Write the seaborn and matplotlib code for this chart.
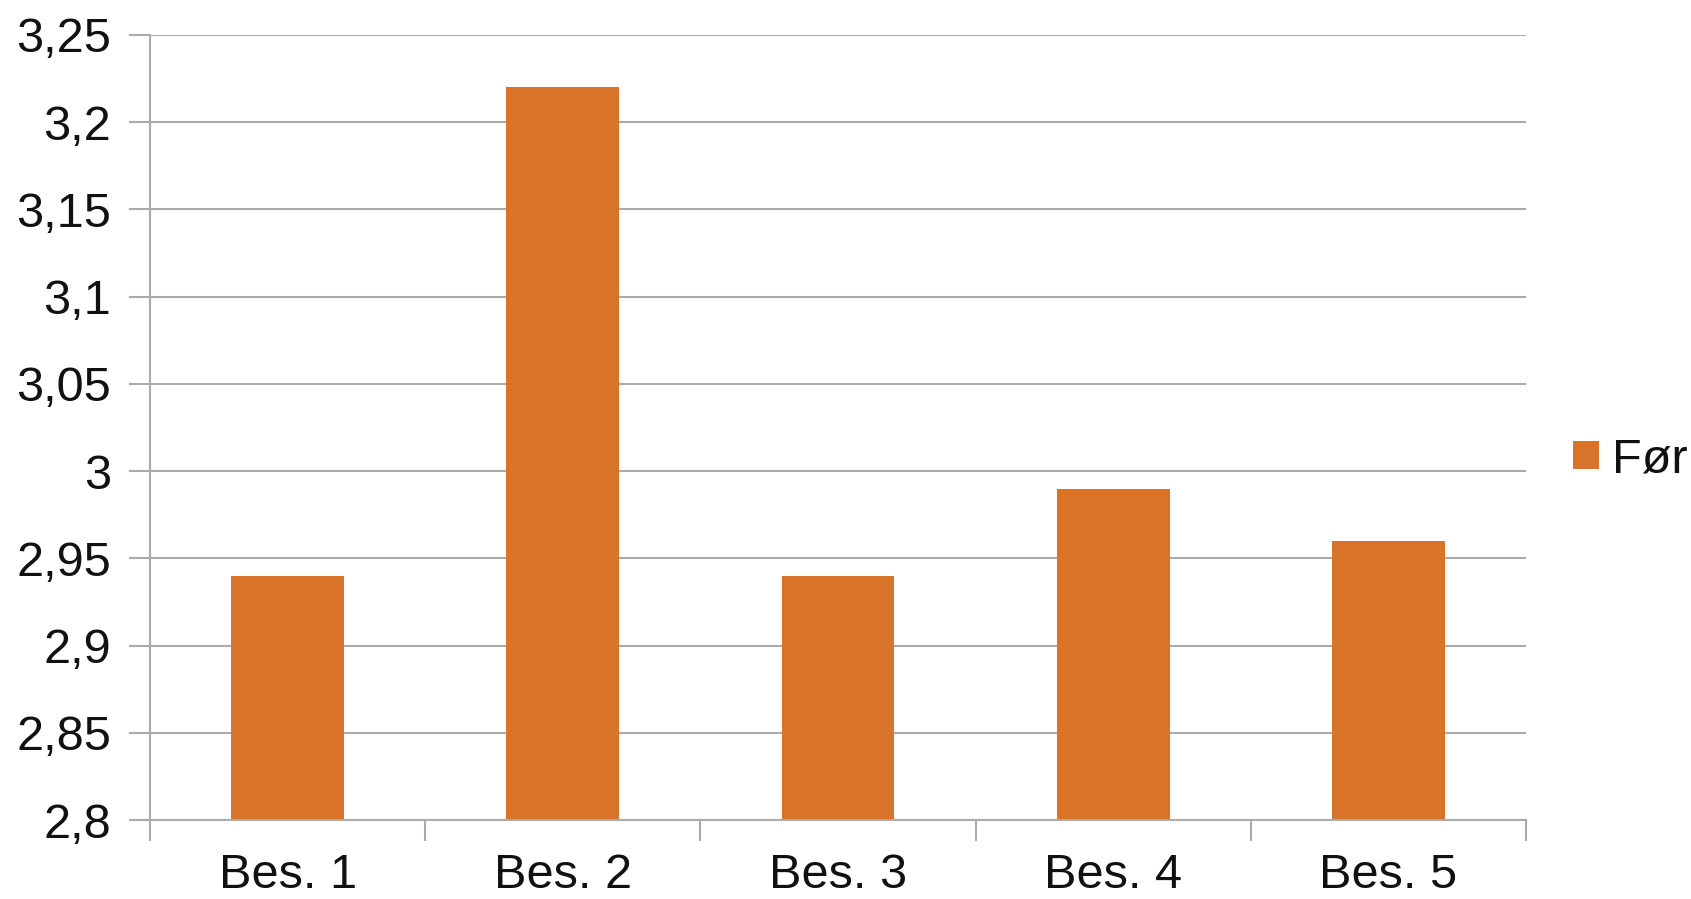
import numpy as np
import pandas as pd
import seaborn as sns
import matplotlib.pyplot as plt
from matplotlib.ticker import FuncFormatter

categories = ['Bes. 1', 'Bes. 2', 'Bes. 3', 'Bes. 4', 'Bes. 5']
values = [2.94, 3.22, 2.94, 2.99, 2.96]
series_name = 'Før'
yticks = [2.8, 2.85, 2.9, 2.95, 3.0, 3.05, 3.1, 3.15, 3.2, 3.25]

sns.set_style('white')
plt.rcParams['font.family'] = ['Liberation Sans', 'DejaVu Sans']
fsize = 35

df = pd.DataFrame({'Besøk': categories, 'Verdi': values})

fig = plt.figure(figsize=(16.91, 8.99), dpi=100)
ax = fig.add_axes([150 / 1691, 1 - 820 / 899, (1526 - 150) / 1691, (820 - 35) / 899])

bar_color = '#D97329'
sns.barplot(data=df, x='Besøk', y='Verdi', color=bar_color, width=0.41,
            saturation=1, linewidth=0, ax=ax, label=series_name, zorder=2)

grid_col = '#ababab'
ax.set_ylim(2.8, 3.25)
ax.set_xlim(-0.5, len(categories) - 0.5)
ax.set_yticks(yticks)
ax.yaxis.set_major_formatter(FuncFormatter(lambda v, p: f'{v:g}'.replace('.', ',')))
ax.yaxis.grid(True, color=grid_col, linewidth=1.5)
ax.set_axisbelow(True)

# category boundaries as outward tick marks
ax.set_xticks(np.arange(-0.5, len(categories)), minor=True)
ax.tick_params(axis='x', which='minor', bottom=True, length=15, width=1.5,
               color=grid_col, direction='out')
ax.tick_params(axis='x', which='major', bottom=True, length=0, pad=24, labelsize=fsize,
               labelcolor='#111111')
ax.tick_params(axis='y', left=True, length=15, width=1.5, color=grid_col,
               direction='out', pad=13, labelsize=fsize, labelcolor='#111111')

for s in ['top', 'right']:
    ax.spines[s].set_visible(False)
for s in ['left', 'bottom']:
    ax.spines[s].set_color(grid_col)
    ax.spines[s].set_linewidth(1.5)

ax.set_xlabel('')
ax.set_ylabel('')

handles, labels = ax.get_legend_handles_labels()
if ax.get_legend():
    ax.get_legend().remove()
fig.legend(handles, labels, loc='center left', bbox_to_anchor=(1573 / 1691, 1 - 460 / 899),
           frameon=False, fontsize=fsize, handlelength=0.53, handleheight=0.5,
           handletextpad=0.27, borderaxespad=0, borderpad=0, labelcolor='#111111')

fig.savefig('out.png', dpi=100, facecolor='white')
